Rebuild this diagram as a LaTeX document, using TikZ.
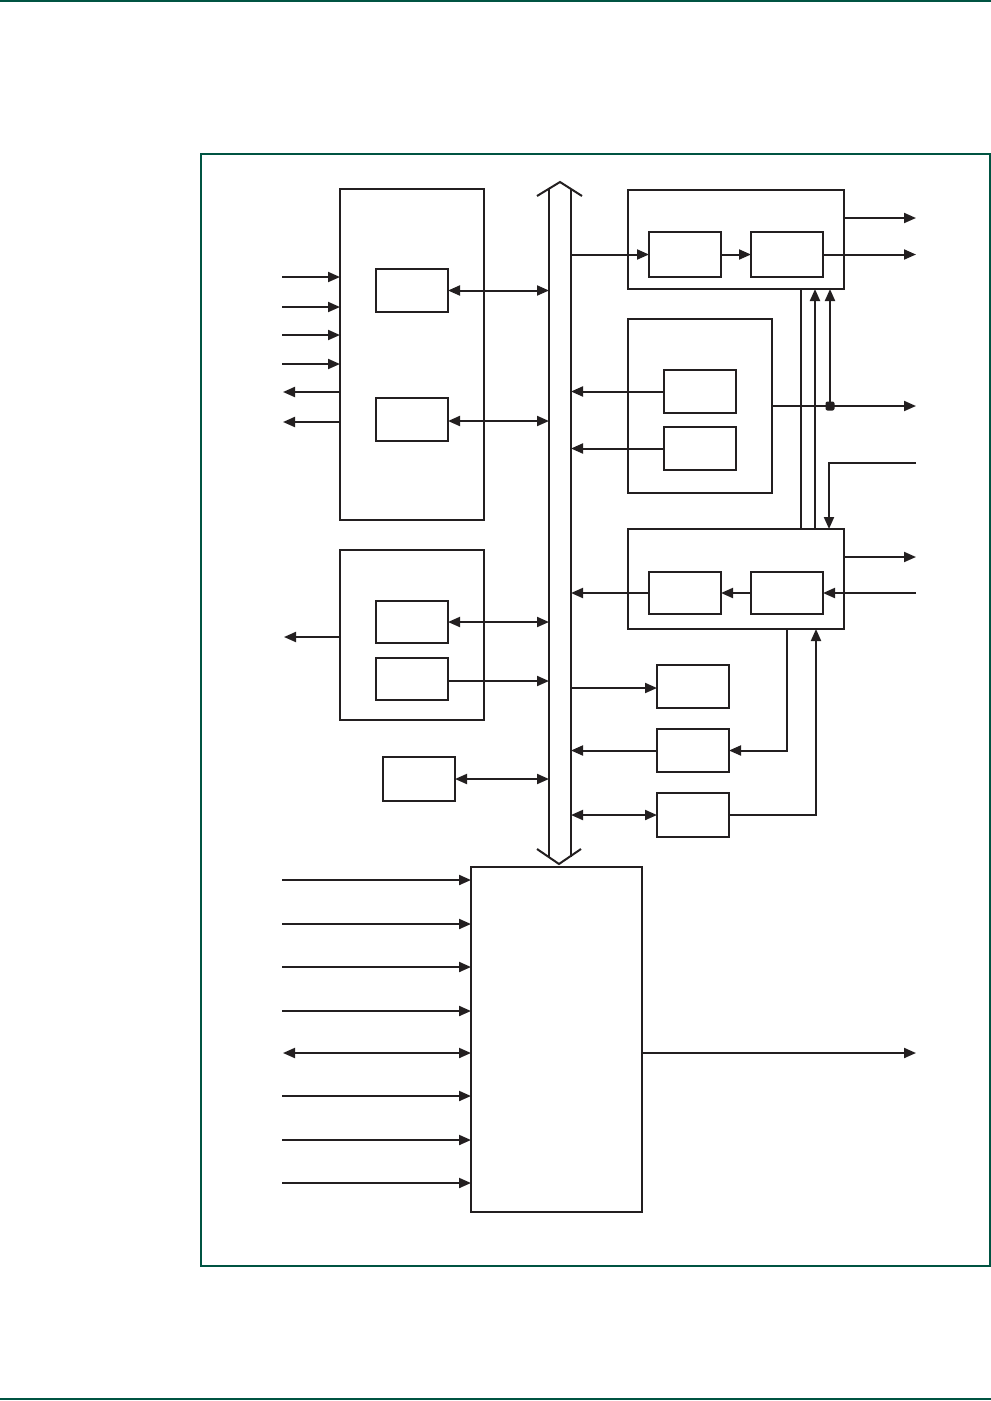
\documentclass[tikz,border=0pt]{standalone}
\usetikzlibrary{arrows.meta}
\definecolor{frameg}{RGB}{0,84,66}
\definecolor{inkc}{RGB}{35,31,32}
\newcommand\blkbox[5]{\node[blk,minimum width={(#4-#2)*1pt},minimum height={(#5-#3)*1pt}] (#1) at (#2,#3) {};}
\begin{document}
\begin{tikzpicture}[x=1pt,y=-1pt,
  blk/.style={draw=inkc, line width=2pt, inner sep=0pt, outer sep=0pt, anchor=north west},
  wire/.style={draw=inkc, line width=2pt},
  sig/.style={wire, -{Triangle[length=12pt,width=10pt]}},
  bi/.style={wire, {Triangle[length=12pt,width=10pt]}-{Triangle[length=12pt,width=10pt]}},
  greenline/.style={draw=frameg, line width=1.4pt}]
\useasboundingbox (0,0) rectangle (991,1401);
% page rules and frame
\draw[greenline, line width=1.8pt] (0,1) -- (991,1);
\draw[greenline, line width=1.8pt] (0,1398.6) -- (991,1398.6);
\draw[greenline] (201,154) rectangle (990,1266);

% free-end coordinates
\coordinate (lx) at (282,0);
\coordinate (rx) at (916,0);

% bus
\node[inner sep=0pt, outer sep=0pt, minimum width=22pt, minimum height=668pt] (bus) at (560,523) {};
\draw[wire] (bus.north west) -- (bus.south west);
\draw[wire] (bus.north east) -- (bus.south east);
\draw[wire] ([shift={(-12,7)}]bus.north west) -- ([shift={(0,-7)}]bus.north) -- ([shift={(11,7)}]bus.north east);
\draw[wire] ([shift={(-12,-8)}]bus.south west) -- ([shift={(-1,7)}]bus.south) -- ([shift={(10,-8)}]bus.south east);

% left blocks
\blkbox{A}{340}{189}{484}{520}
\blkbox{A1}{376}{269}{448}{312}
\blkbox{A2}{376}{398}{448}{441}
\blkbox{B}{340}{550}{484}{720}
\blkbox{B1}{376}{601}{448}{643}
\blkbox{B2}{376}{658}{448}{700}
\blkbox{C}{383}{757}{455}{801}

% right blocks
\blkbox{D}{628}{190}{844}{289}
\blkbox{D1}{649}{232}{721}{277}
\blkbox{D2}{751}{232}{823}{277}
\blkbox{E}{628}{319}{772}{493}
\blkbox{E1}{664}{370}{736}{413}
\blkbox{E2}{664}{427}{736}{470}
\blkbox{F}{628}{529}{844}{629}
\blkbox{F1}{649}{572}{721}{614}
\blkbox{F2}{751}{572}{823}{614}
\blkbox{G}{657}{665}{729}{708}
\blkbox{H}{657}{729}{729}{772}
\blkbox{I}{657}{793}{729}{837}

% bottom block
\blkbox{J}{471}{867}{642}{1212}

% A connections
\foreach \yy in {277,307,335,364} \draw[sig] (lx |- 0,\yy) -- (A.west |- 0,\yy);
\foreach \yy in {392,422} \draw[sig] (A.west |- 0,\yy) -- ([xshift=1pt]lx |- 0,\yy);
\draw[bi] (A1.east) -- (A1.east -| bus.west);
\draw[bi] ([yshift=-1.5pt]A2.east) -- ([yshift=-1.5pt]A2.east -| bus.west);

% B, C connections
\draw[sig] (B.west |- 0,637) -- ([xshift=2pt]lx |- 0,637);
\draw[bi] (B1.east) -- (B1.east -| bus.west);
\draw[sig] ([yshift=-2pt]B2.east) -- ([yshift=-2pt]B2.east -| bus.west);
\draw[bi] (C.east) -- (C.east -| bus.west);

% D connections
\draw[sig] (D1.west -| bus.east) -- (D1.west);
\draw[sig] (D1.east) -- (D2.west);
\draw[sig] (D2.east) -- (D2.east -| rx);
\draw[sig] (D.east |- 0,218) -- (rx |- 0,218);

% E connections
\draw[sig] (E1.west) -- (E1.west -| bus.east);
\draw[sig] (E2.west) -- (E2.west -| bus.east);
\coordinate (jn) at (830,406);
\draw[sig] (E.east) -- (E.east -| rx);
\fill[inkc, rounded corners=2pt] ([shift={(-4.5,-4.5)}]jn) rectangle ([shift={(4.5,4.5)}]jn);
\draw[sig] (jn) -- (jn |- D.south);

% verticals between D and F
\coordinate (v1) at (801,0);
\coordinate (v2) at (815,0);
\coordinate (v3) at (829,0);
\draw[wire] (D.south -| v1) -- (F.north -| v1);
\draw[sig] (F.north -| v2) -- (D.south -| v2);
\draw[sig] (rx |- 0,463) -- (v3 |- 0,463) -- (F.north -| v3);

% F connections
\draw[sig] (F.east |- 0,557) -- (rx |- 0,557);
\draw[sig] (rx |- F2.east) -- (F2.east);
\draw[sig] (F2.west) -- (F1.east);
\draw[sig] (F1.west) -- (F1.west -| bus.east);

% G, H, I
\coordinate (v4) at (787,0);
\coordinate (v5) at (816,0);
\draw[sig] ([yshift=-1.5pt]G.west -| bus.east) -- ([yshift=-1.5pt]G.west);
\draw[sig] (H.west) -- (H.west -| bus.east);
\draw[bi] (I.west -| bus.east) -- (I.west);
\draw[sig] (F.south -| v4) -- (v4 |- H.east) -- (H.east);
\draw[sig] (I.east) -- (v5 |- I.east) -- (F.south -| v5);

% J connections
\foreach \yy in {880,924,967,1011,1096,1140,1183} \draw[sig] (lx |- 0,\yy) -- (J.west |- 0,\yy);
\draw[bi] ([xshift=1pt]lx |- 0,1053) -- (J.west |- 0,1053);
\draw[sig] (J.east |- 0,1053) -- (rx |- 0,1053);
\end{tikzpicture}
\end{document}
